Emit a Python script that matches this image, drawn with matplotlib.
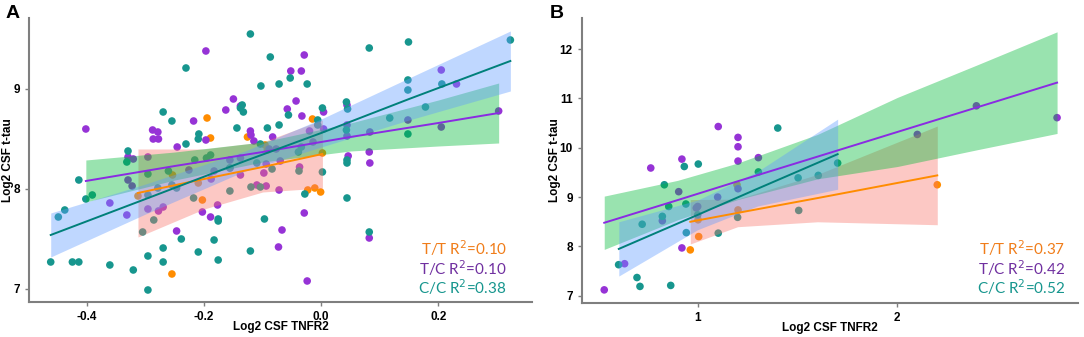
"""
CSF t-tau vs CSF TNFR2 by genotype (T/T, T/C, C/C), two panels.
"""
import matplotlib
matplotlib.use('Agg')
import matplotlib.pyplot as plt

# ---------------- panel A: points ----------------
a_tt_x = [-0.313, -0.195, -0.189, -0.126, -0.096, -0.092, -0.254, -0.210, -0.203,
          -0.255, -0.015, 0.002, -0.023, -0.011, -0.001]
a_tt_y = [7.93, 8.71, 8.51, 8.52, 8.44, 8.39, 8.14, 8.06, 7.89,
          7.15, 8.70, 8.36, 7.99, 8.01, 7.97]

a_tc_x = [-0.402, -0.288, -0.287, -0.330, -0.321, -0.296, -0.330, -0.323, -0.361, -0.332,
          -0.296, -0.197, -0.150, -0.163, -0.138, -0.218, -0.121, -0.120, -0.197, -0.115,
          -0.083, -0.279, -0.278, -0.246, -0.089, -0.077, -0.138, -0.156, -0.156, -0.226,
          -0.183, -0.188, -0.138, -0.094, -0.098, -0.110, -0.094, -0.072, -0.278, -0.270,
          -0.177, -0.203, -0.189, -0.247, -0.073, -0.029, -0.052, -0.034, -0.043, -0.058,
          0.004, -0.033, 0.044, 0.004, -0.020, 0.044, 0.044, 0.083, -0.014, 0.082,
          0.046, 0.083, -0.037, -0.070, -0.029, -0.067, 0.082, -0.024, 0.205, 0.231,
          0.148, 0.205, 0.303]
a_tc_y = [8.60, 8.59, 8.50, 8.32, 8.30, 8.32, 8.09, 8.03, 7.86, 7.74,
          7.80, 9.38, 8.90, 8.79, 8.83, 8.68, 8.58, 8.54, 8.49, 8.48,
          8.52, 8.57, 8.50, 8.42, 8.40, 8.40, 8.31, 8.29, 8.21, 8.19,
          8.18, 8.10, 8.14, 8.25, 8.16, 8.04, 8.03, 7.99, 7.78, 7.82,
          7.84, 7.77, 7.72, 7.58, 7.42, 9.34, 9.18, 9.18, 8.88, 8.80,
          8.77, 8.73, 8.84, 8.60, 8.58, 8.64, 8.53, 8.57, 8.47, 8.37,
          8.33, 8.26, 8.22, 8.28, 7.76, 7.59, 7.51, 7.08, 9.19, 9.05,
          8.69, 8.62, 8.78]

a_cc_x = [-0.330, -0.332, -0.414, -0.391, -0.402, -0.438, -0.449, -0.296, -0.296, -0.286,
          -0.305, -0.462, -0.425, -0.414, -0.361, -0.321, -0.296, -0.296, -0.121, -0.087,
          -0.231, -0.103, -0.072, -0.270, -0.255, -0.135, -0.138, -0.133, -0.144, -0.092,
          -0.072, -0.209, -0.210, -0.231, -0.216, -0.196, -0.189, -0.261, -0.279, -0.255,
          -0.247, -0.156, -0.110, -0.104, -0.084, -0.120, -0.104, -0.156, -0.218, -0.176,
          -0.176, -0.097, -0.239, -0.183, -0.270, -0.210, -0.121, -0.270, -0.176, 0.082,
          -0.053, -0.024, 0.002, -0.056, -0.006, -0.006, 0.043, 0.045, 0.043, 0.117,
          -0.034, -0.039, 0.044, 0.044, 0.002, -0.038, -0.028, 0.044, 0.082, 0.149,
          0.148, 0.148, 0.206, 0.178, 0.148, 0.323]
a_cc_y = [8.38, 8.27, 8.09, 7.94, 7.90, 7.79, 7.72, 8.15, 7.94, 7.69,
          7.57, 7.27, 7.27, 7.27, 7.24, 7.19, 7.33, 6.99, 9.55, 9.32,
          9.21, 9.03, 9.05, 8.77, 8.68, 8.84, 8.81, 8.77, 8.61, 8.61,
          8.64, 8.55, 8.50, 8.45, 8.29, 8.31, 8.34, 8.18, 8.01, 8.04,
          8.01, 8.21, 8.26, 8.45, 8.20, 8.02, 8.02, 7.98, 7.91, 7.70,
          7.68, 7.70, 7.50, 7.49, 7.41, 7.37, 7.38, 7.27, 7.29, 9.41,
          9.11, 9.05, 8.81, 8.74, 8.69, 8.64, 8.87, 8.80, 8.59, 8.71,
          8.42, 8.37, 8.29, 8.26, 8.17, 8.18, 7.95, 7.91, 7.57, 9.47,
          9.09, 8.99, 9.05, 8.82, 8.55, 9.49]

# panel A: fitted lines with 95% CI
a_tt_fx = [-0.313, -0.2, -0.1, 0.002]
a_tt_fy = [7.96, 8.10, 8.22, 8.35]
a_tt_lo = [7.52, 7.80, 7.97, 8.01]
a_tt_hi = [8.40, 8.40, 8.47, 8.69]

a_tc_fx = [-0.402, -0.25, -0.1, 0.05, 0.2, 0.303]
a_tc_fy = [8.08, 8.23, 8.37, 8.52, 8.66, 8.76]
a_tc_lo = [7.87, 8.09, 8.27, 8.38, 8.43, 8.46]
a_tc_hi = [8.29, 8.37, 8.47, 8.66, 8.89, 9.06]

a_cc_fx = [-0.462, -0.3, -0.13, 0.0, 0.15, 0.323]
a_cc_fy = [7.54, 7.90, 8.28, 8.56, 8.90, 9.28]
a_cc_lo = [7.32, 7.75, 8.18, 8.42, 8.69, 8.98]
a_cc_hi = [7.76, 8.05, 8.38, 8.70, 9.11, 9.58]

a_r2 = ['0.10', '0.10', '0.38']

# ---------------- panel B: points ----------------
b_tt_x = [0.963, 1.002, 1.005, 1.197, 1.202, 2.200]
b_tt_y = [7.93, 8.54, 8.20, 9.25, 8.74, 9.25]

b_tc_x = [0.532, 0.634, 0.765, 0.921, 0.905, 0.823, 0.921, 1.103, 1.202, 1.202,
          1.202, 1.202, 1.304, 1.100, 1.000, 0.993, 2.100, 2.396, 2.800]
b_tc_y = [7.12, 7.65, 9.59, 9.77, 9.11, 8.52, 7.97, 10.43, 10.21, 10.02,
          9.73, 9.17, 9.80, 9.00, 8.81, 8.78, 10.27, 10.85, 10.61]

b_cc_x = [0.604, 0.696, 0.711, 0.865, 0.722, 0.823, 0.833, 0.855, 0.933, 0.941,
          0.943, 1.003, 1.000, 1.103, 1.200, 1.304, 1.401, 1.503, 1.506, 1.604, 1.701]
b_cc_y = [7.63, 7.37, 7.19, 7.21, 8.45, 8.61, 9.25, 8.81, 9.62, 8.86,
          8.28, 9.67, 8.64, 8.27, 8.59, 9.51, 10.40, 9.39, 8.73, 9.44, 9.69]

b_tt_fx = [0.963, 1.2, 1.6, 2.2]
b_tt_fy = [8.50, 8.68, 8.98, 9.44]
b_tt_lo = [8.05, 8.40, 8.50, 8.44]
b_tt_hi = [8.95, 8.96, 9.46, 10.44]

b_tc_fx = [0.532, 0.9, 1.2, 1.6, 2.0, 2.4, 2.8]
b_tc_fy = [8.48, 8.94, 9.32, 9.82, 10.32, 10.82, 11.32]
b_tc_lo = [7.94, 8.54, 8.95, 9.37, 9.62, 9.96, 10.29]
b_tc_hi = [9.02, 9.34, 9.69, 10.27, 11.02, 11.68, 12.35]

b_cc_fx = [0.605, 1.0, 1.3, 1.701]
b_cc_fy = [7.95, 8.64, 9.17, 9.87]
b_cc_lo = [7.40, 8.34, 8.82, 9.16]
b_cc_hi = [8.50, 8.94, 9.52, 10.58]

b_r2 = ['0.37', '0.42', '0.52']

groups = ['T/T', 'T/C', 'C/C']
pt_colors = ['#FF8C00', '#9633D6', '#17968E']
line_colors = ['#FF8C00', '#8A2BE2', '#00807A']
band_colors = ['#F8766D', '#00BA38', '#619CFF']
txt_colors = ['#F07D1A', '#7030A0', '#17968E']

plt.rcParams['font.family'] = ['Liberation Sans', 'DejaVu Sans']

fig = plt.figure(figsize=(10.84, 3.37), dpi=100)
ax_a = fig.add_axes([0.0268, 0.1039, 0.4640, 0.8427])
ax_b = fig.add_axes([0.5366, 0.1018, 0.4579, 0.8448])


def draw_panel(ax, pts, fits, r2, txt_x, txt_y):
    for i, (px, py) in enumerate(pts):
        ax.scatter(px, py, s=30, color=pt_colors[i], edgecolors='none', zorder=2)
    for i, (fx, fy, lo, hi) in enumerate(fits):
        ax.fill_between(fx, lo, hi, color=band_colors[i], alpha=0.4, lw=0, zorder=3)
        ax.plot(fx, fy, color=line_colors[i], lw=1.4, zorder=4)
    for i, g in enumerate(groups):
        ax.text(txt_x, txt_y[i], g + ' R$^2$=' + r2[i], transform=ax.transAxes,
                ha='right', va='center', color=txt_colors[i], fontsize=11,
                family=['Lato', 'DejaVu Sans'])
    for side in ['top', 'right']:
        ax.spines[side].set_visible(False)
    for side in ['left', 'bottom']:
        ax.spines[side].set_color('#7f7f7f')
        ax.spines[side].set_linewidth(1.5)
    ax.tick_params(colors='#7f7f7f', length=3, width=1, labelcolor='black', labelsize=8.5)
    ax.set_xlabel('Log2 CSF TNFR2', fontsize=8.5, fontweight='bold')
    ax.set_ylabel('Log2 CSF t-tau', fontsize=8.5, fontweight='bold')


draw_panel(ax_a,
           [(a_tt_x, a_tt_y), (a_tc_x, a_tc_y), (a_cc_x, a_cc_y)],
           [(a_tt_fx, a_tt_fy, a_tt_lo, a_tt_hi),
            (a_tc_fx, a_tc_fy, a_tc_lo, a_tc_hi),
            (a_cc_fx, a_cc_fy, a_cc_lo, a_cc_hi)],
           a_r2, 0.950, [0.188, 0.120, 0.052])
ax_a.set_xlim(-0.499, 0.360)
ax_a.set_ylim(6.87, 9.71)
ax_a.set_xticks([-0.4, -0.2, 0.0, 0.2])
ax_a.set_xticklabels(['-0.4', '-0.2', '0.0', '0.2'], fontweight='bold')
ax_a.set_yticks([7, 8, 9])
ax_a.set_yticklabels(['7', '8', '9'], fontweight='bold')
ax_a.xaxis.set_label_coords(0.5, -0.068)
ax_a.yaxis.set_label_coords(-0.030, 0.5)

draw_panel(ax_b,
           [(b_tt_x, b_tt_y), (b_tc_x, b_tc_y), (b_cc_x, b_cc_y)],
           [(b_tt_fx, b_tt_fy, b_tt_lo, b_tt_hi),
            (b_tc_fx, b_tc_fy, b_tc_lo, b_tc_hi),
            (b_cc_fx, b_cc_fy, b_cc_lo, b_cc_hi)],
           b_r2, 0.974, [0.191, 0.123, 0.056])
ax_b.set_xlim(0.419, 2.905)
ax_b.set_ylim(6.86, 12.63)
ax_b.set_xticks([1, 2])
ax_b.set_xticklabels(['1', '2'], fontweight='bold')
ax_b.set_yticks([7, 8, 9, 10, 11, 12])
ax_b.set_yticklabels(['7', '8', '9', '10', '11', '12'], fontweight='bold')
ax_b.xaxis.set_label_coords(0.5, -0.068)
ax_b.yaxis.set_label_coords(-0.042, 0.5)

fig.text(0.005, 0.960, 'A', fontsize=14, fontweight='bold', va='center')
fig.text(0.507, 0.960, 'B', fontsize=14, fontweight='bold', va='center')

fig.savefig('out.png', dpi=100)
